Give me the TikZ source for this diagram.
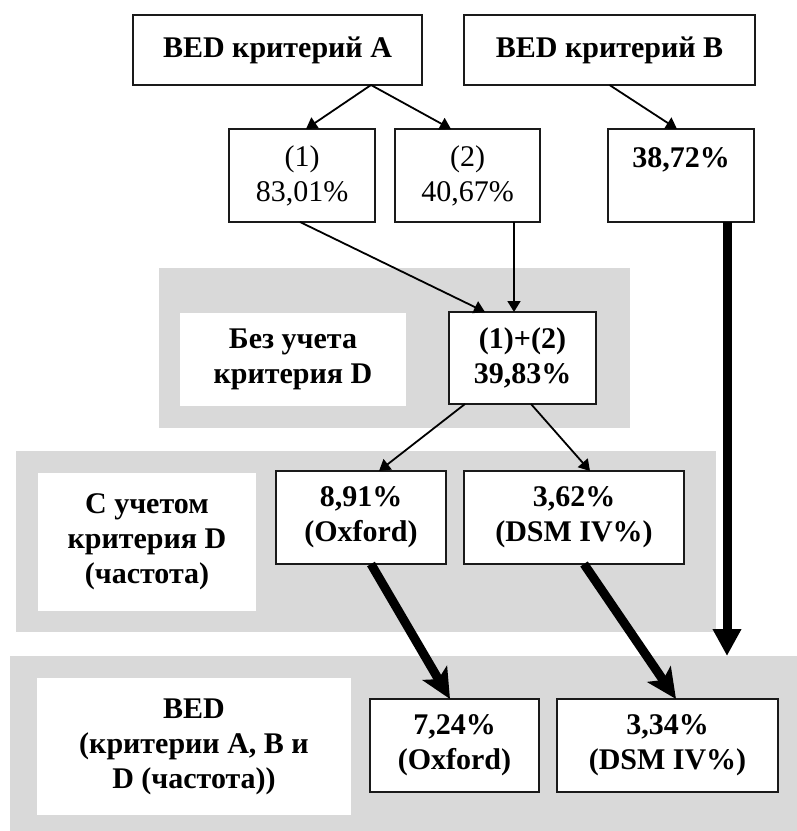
\documentclass[tikz,border=0pt]{standalone}
\usepackage{fontspec}
\setmainfont{Liberation Serif}
\usetikzlibrary{arrows.meta}
\definecolor{panelgray}{HTML}{D9D9D9}
\definecolor{boxline}{HTML}{1A1A1A}
\begin{document}
\begin{tikzpicture}[x=1pt,y=-1pt,
  txt/.style={font=\fontsize{30}{35}\selectfont\bfseries, align=center, inner sep=0pt, outer sep=0pt},
  panel/.style={fill=panelgray, draw=none, inner sep=0pt, outer sep=0pt},
  lbl/.style={txt, fill=white},
  box/.style={txt, draw=boxline, line width=1.8pt, fill=white},
  reg/.style={font=\fontsize{30}{35}\selectfont\mdseries},
  thinarrow/.style={line width=1.8pt, -{Triangle[length=11pt,width=13pt]}},
  thickarrow/.style={line width=9pt, -{Triangle[length=27pt,width=27pt]}},
  barbarrow/.style={line width=9pt, -{Stealth[length=30pt,width=28pt,inset=7pt]}},
]
\useasboundingbox (0,0) rectangle (797,831);
% panels
\node[panel, minimum width=471pt, minimum height=160pt] (P1) at (394.5,348) {};
\node[panel, minimum width=700pt, minimum height=181pt] (P2) at (366,541.5) {};
\node[panel, minimum width=790pt, minimum height=180pt] (P3) at (405,746) {};
% labels
\node[lbl, minimum width=226pt, minimum height=93pt] (L1) at (293,359.5) {Без учета\\критерия D};
\node[lbl, minimum width=218pt, minimum height=138pt] (L2) at (147,542) {С учетом\\критерия D\\(частота)};
\node[lbl, minimum width=314pt, minimum height=137pt] (L3) at (194,746.5) {BED\\(критерии A, B и\\D (частота))};
% boxes
\node[box, minimum width=289pt, minimum height=70pt] (A) at (277.5,50) {BED критерий A};
\node[box, minimum width=291pt, minimum height=70pt] (B) at (609.5,50) {BED критерий B};
\node[box, reg, minimum width=146pt, minimum height=93pt] (n1) at (302,175.5) {(1)\\83,01\%};
\node[box, reg, minimum width=145pt, minimum height=93pt] (n2) at (467.5,175.5) {(2)\\40,67\%};
\node[box, minimum width=146pt, minimum height=93pt] (n38) at (681,175.5) {38,72\%\\\phantom{0}};
\node[box, minimum width=147pt, minimum height=92pt] (n12) at (522.5,358) {(1)+(2)\\39,83\%};
\node[box, minimum width=170pt, minimum height=93pt] (n891) at (361,517.5) {8,91\%\\(Oxford)};
\node[box, minimum width=220pt, minimum height=93pt] (n362) at (574,517.5) {3,62\%\\(DSM IV\%)};
\node[box, minimum width=169pt, minimum height=93pt] (n724) at (454.5,745.5) {7,24\%\\(Oxford)};
\node[box, minimum width=221pt, minimum height=93pt] (n334) at (667.5,745.5) {3,34\%\\(DSM IV\%)};
\coordinate (tipB) at (727,656);
% thin arrows
\draw[thinarrow] ([xshift=93.5pt]A.south) -- ([xshift=4pt]n1.north);
\draw[thinarrow] ([xshift=93.5pt]A.south) -- ([xshift=-16.5pt]n2.north);
\draw[thinarrow] (B.south) -- ([xshift=-4pt]n38.north);
\draw[thinarrow] ([xshift=-2pt]n1.south) -- ([xshift=-37.5pt]n12.north);
\draw[thinarrow] ([xshift=46.5pt]n2.south) -- ([xshift=-8.5pt]n12.north);
\draw[thinarrow] ([xshift=-57.5pt]n12.south) -- ([xshift=18pt]n891.north);
\draw[thinarrow] ([xshift=8.5pt]n12.south) -- ([xshift=16pt]n362.north);
% thick arrows
\draw[thickarrow] ([xshift=46pt]n38.south) -- (tipB);
\draw[barbarrow] ([xshift=10pt]n891.south) -- ([xshift=-4.5pt]n724.north);
\draw[barbarrow] ([xshift=10pt]n362.south) -- ([xshift=8.5pt]n334.north);
\end{tikzpicture}
\end{document}
